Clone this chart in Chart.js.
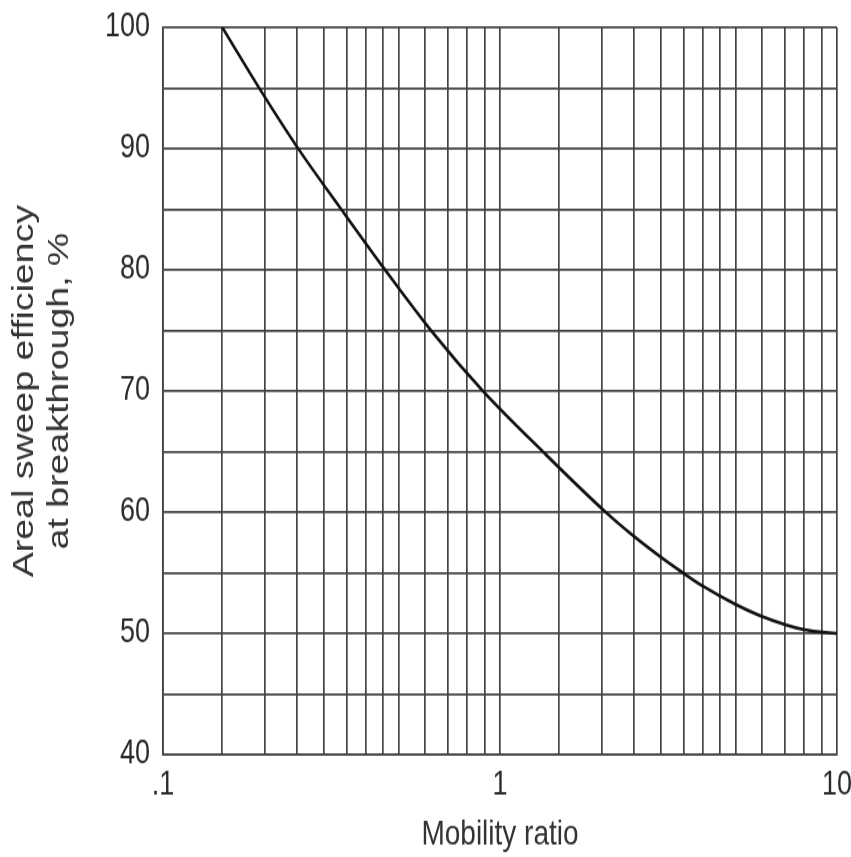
<!DOCTYPE html>
<html>
<head>
<meta charset="utf-8">
<script src="https://cdn.jsdelivr.net/npm/chart.js@4/dist/chart.umd.min.js"></script>
<style>
  html, body { margin: 0; padding: 0; background: #fff; }
  canvas { display: block; }
</style>
</head>
<body>
<!-- drawn at 686px high and shown at 857px: the reference is stretched vertically -->
<canvas id="sweep" width="851" height="686" style="width:851px;height:857px"></canvas>
<script>
const mobility = [0.15, 0.193, 0.252, 0.338, 0.456, 0.624, 0.89, 1.34, 2.06, 2.5, 3, 3.49, 4, 5, 6, 8, 10];
const efficiency = [100, 95, 90, 85, 80, 75, 70, 65, 60, 58, 56.3, 55, 53.9, 52.4, 51.4, 50.3, 50];

const xGrid = [0.1, 0.15, 0.2, 0.25, 0.3, 0.35, 0.4, 0.45, 0.5, 0.6, 0.7, 0.8, 0.9,
               1, 1.5, 2, 2.5, 3, 3.5, 4, 4.5, 5, 6, 7, 8, 9, 10];
const xLabels = { 0.1: ".1", 1: "1", 10: "10" };

const FONT = "'Liberation Sans', Arial, sans-serif";
const GRID = "#444";

new Chart(document.getElementById("sweep"), {
  type: "line",
  data: {
    datasets: [{
      data: mobility.map((m, i) => ({ x: m, y: efficiency[i] })),
      borderColor: "#111",
      borderWidth: 2.6,
      pointRadius: 0,
      cubicInterpolationMode: "monotone",
      fill: false
    }]
  },
  options: {
    responsive: false,
    animation: false,
    devicePixelRatio: 1,
    layout: { padding: { top: 22, right: 14, left: 0, bottom: 0 } },
    plugins: { legend: { display: false }, tooltip: { enabled: false } },
    scales: {
      x: {
        type: "logarithmic",
        min: 0.1,
        max: 10,
        afterBuildTicks: axis => { axis.ticks = xGrid.map(v => ({ value: v })); },
        afterFit: axis => {
          axis.height = 82;
          axis.paddingLeft = 0;
          axis.paddingRight = 0;
        },
        grid: { color: GRID, lineWidth: 1.7, drawTicks: false },
        border: { color: GRID, width: 1.7 },
        ticks: {
          autoSkip: false,
          maxRotation: 0,
          padding: 8,
          color: "#2a2a2a",
          font: { family: FONT, size: 27 },
          callback: v => xLabels[v] || ""
        },
        title: {
          display: true,
          text: "Mobility ratio",
          color: "#333",
          font: { family: FONT, size: 28 },
          padding: { top: 0, bottom: 1 }
        }
      },
      y: {
        min: 40,
        max: 100,
        afterFit: axis => {
          axis.width = 163;
          axis.paddingTop = 0;
          axis.paddingBottom = 0;
        },
        grid: { color: GRID, lineWidth: 1.7, drawTicks: false },
        border: { color: GRID, width: 1.7 },
        ticks: {
          stepSize: 5,
          padding: 13,
          color: "#2a2a2a",
          font: { family: FONT, size: 27 },
          callback: v => (v % 10 === 0 ? v : "")
        },
        title: {
          display: true,
          text: ["Areal sweep efficiency", "at breakthrough, %"],
          color: "#333",
          font: { family: FONT, size: 30, lineHeight: 1.17 },
          padding: { top: 7, bottom: 0 }
        }
      }
    }
  }
});
</script>
</body>
</html>
